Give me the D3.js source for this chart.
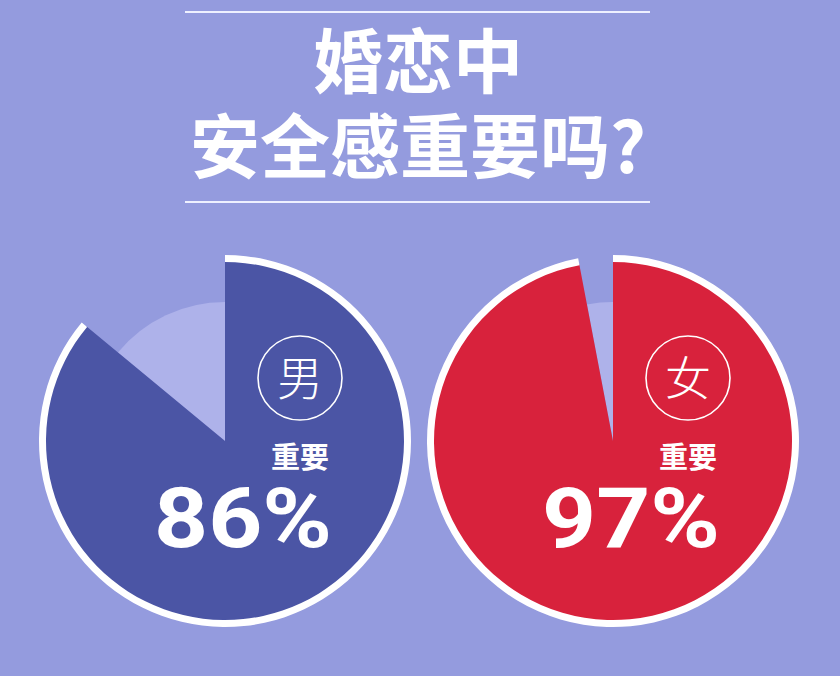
<!DOCTYPE html>
<html>
<head>
<meta charset="utf-8">
<script src="https://cdn.jsdelivr.net/npm/d3@7"></script>
<style>
  html, body { margin: 0; padding: 0; background: #949bde; }
  svg { display: block; }
</style>
</head>
<body>
<div id="chart"></div>
<script>
const titleLines = ['婚恋中', '安全感重要吗?'];
const groups = ['男', '女'];
const importantPct = [86, 97];
const importantLabel = '重要';
const mainColors = ['#4b55a5', '#d8223c'];

const width = 840;
const height = 676;

const svg = d3.select('#chart')
  .append('svg')
  .attr('width', width)
  .attr('height', height);

svg.append('rect')
  .attr('width', width)
  .attr('height', height)
  .attr('fill', '#949bde');

// title block
const title = svg.append('g').attr('class', 'title');

[12, 202].forEach(y => {
  title.append('line')
    .attr('x1', 185).attr('x2', 650)
    .attr('y1', y).attr('y2', y)
    .attr('stroke', '#eef0ff')
    .attr('stroke-width', 2);
});

title.selectAll('text')
  .data(titleLines)
  .enter()
  .append('text')
  .attr('x', 418)
  .attr('y', (d, i) => 88 + i * 85)
  .attr('text-anchor', 'middle')
  .attr('fill', '#ffffff')
  .style('font-family', '"Noto Sans CJK SC", sans-serif')
  .style('font-weight', 700)
  .style('font-size', '70px')
  .text(d => d);

// pies
const x = d3.scalePoint()
  .domain(groups)
  .range([225, 613]);
const cy = 441;

const pie = d3.pie()
  .sort(null)
  .value(d => d);

const outerR = 180;
const restR = 139;

const arcMain = d3.arc().innerRadius(0).outerRadius(outerR);
const arcRest = d3.arc().innerRadius(0).outerRadius(restR);
const arcRim = d3.arc().innerRadius(outerR - 1).outerRadius(outerR + 6);

groups.forEach((g, i) => {
  const pct = importantPct[i];
  const slices = pie([pct, 100 - pct]);
  const cx = x(g);

  const wrap = svg.append('g')
    .attr('class', 'pie')
    .attr('transform', `translate(${cx}, ${cy})`);

  wrap.append('path')
    .attr('d', arcRest(slices[1]))
    .attr('fill', '#aeb2ea');

  wrap.append('path')
    .attr('d', arcMain(slices[0]))
    .attr('fill', mainColors[i]);

  wrap.append('path')
    .attr('d', arcRim(slices[0]))
    .attr('fill', '#ffffff');

  // group badge
  wrap.append('circle')
    .attr('cx', 75)
    .attr('cy', -63)
    .attr('r', 42)
    .attr('fill', 'none')
    .attr('stroke', '#ffffff')
    .attr('stroke-width', 1.6);

  wrap.append('text')
    .attr('x', 75)
    .attr('y', -63)
    .attr('dy', '0.36em')
    .attr('text-anchor', 'middle')
    .attr('fill', '#ffffff')
    .style('font-family', '"Noto Sans CJK SC", sans-serif')
    .style('font-weight', 300)
    .style('font-size', '46px')
    .text(g);

  wrap.append('text')
    .attr('x', 75)
    .attr('y', 27)
    .attr('text-anchor', 'middle')
    .attr('fill', '#ffffff')
    .style('font-family', '"Noto Sans CJK SC", sans-serif')
    .style('font-weight', 700)
    .style('font-size', '29px')
    .text(importantLabel);

  wrap.append('text')
    .attr('x', 107)
    .attr('y', 106)
    .attr('text-anchor', 'end')
    .attr('fill', '#ffffff')
    .attr('textLength', 178)
    .attr('lengthAdjust', 'spacingAndGlyphs')
    .style('font-family', 'Roboto, sans-serif')
    .style('font-weight', 700)
    .style('font-size', '84px')
    .text(pct + '%');
});
</script>
</body>
</html>
